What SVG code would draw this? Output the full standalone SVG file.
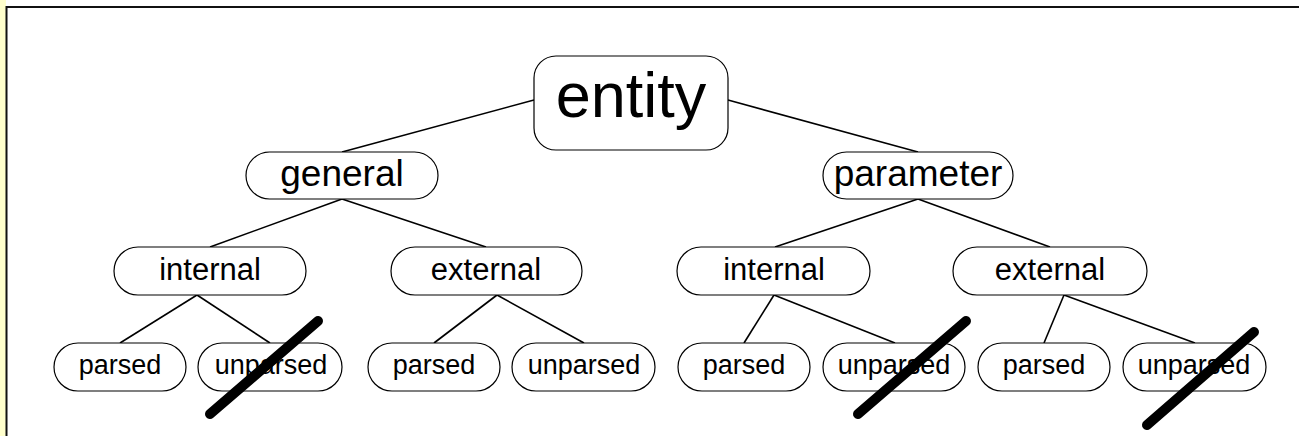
<svg xmlns="http://www.w3.org/2000/svg" width="1299" height="436" viewBox="0 0 1299 436">
  <style>
    .node { fill: #ffffff; stroke: #000000; stroke-width: 1.2; }
    .lbl { font-family: "Liberation Sans", Arial, sans-serif; fill: #000000; text-anchor: middle; }
    .edge { stroke: #000000; stroke-width: 1.6; fill: none; }
    .strike { stroke: #000000; stroke-width: 10; stroke-linecap: round; }
  </style>

  <!-- page background and frame -->
  <rect x="0" y="0" width="1299" height="436" fill="#ffffff"/>
  <rect x="0" y="0" width="6" height="436" fill="#ffffcc"/>
  <path d="M6.5 436 V7 H1299" fill="none" stroke="#111111" stroke-width="2"/>

  <!-- connectors -->
  <g id="connectors">
    <line class="edge" x1="534" y1="100" x2="342" y2="152"/>
    <line class="edge" x1="728" y1="100" x2="918" y2="152"/>
    <line class="edge" x1="342" y1="199" x2="210" y2="247"/>
    <line class="edge" x1="342" y1="199" x2="486" y2="247"/>
    <line class="edge" x1="918" y1="199" x2="775" y2="247"/>
    <line class="edge" x1="918" y1="199" x2="1050" y2="247"/>
    <line class="edge" x1="197" y1="295" x2="120" y2="343"/>
    <line class="edge" x1="197" y1="295" x2="270" y2="343"/>
    <line class="edge" x1="497" y1="295" x2="434" y2="343"/>
    <line class="edge" x1="497" y1="295" x2="584" y2="343"/>
    <line class="edge" x1="774" y1="295" x2="744" y2="343"/>
    <line class="edge" x1="774" y1="295" x2="895" y2="343"/>
    <line class="edge" x1="1064" y1="295" x2="1044" y2="343"/>
    <line class="edge" x1="1064" y1="295" x2="1195" y2="343"/>
  </g>

  <!-- root -->
  <g id="entity">
    <rect class="node" x="534" y="56" width="194" height="94" rx="22"/>
    <text class="lbl" x="631" y="117" font-size="63">entity</text>
  </g>

  <!-- second level -->
  <g id="general">
    <rect class="node" x="246" y="152" width="192" height="47" rx="23.5"/>
    <text class="lbl" x="342" y="186" font-size="37">general</text>
  </g>
  <g id="parameter">
    <rect class="node" x="823" y="152" width="190" height="47" rx="23.5"/>
    <text class="lbl" x="918" y="186" font-size="37">parameter</text>
  </g>

  <!-- third level -->
  <g id="general-internal">
    <rect class="node" x="114" y="247" width="192" height="48" rx="24"/>
    <text class="lbl" x="210" y="280" font-size="31">internal</text>
  </g>
  <g id="general-external">
    <rect class="node" x="391" y="247" width="191" height="48" rx="24"/>
    <text class="lbl" x="486" y="280" font-size="31">external</text>
  </g>
  <g id="parameter-internal">
    <rect class="node" x="677" y="247" width="193" height="48" rx="24"/>
    <text class="lbl" x="774" y="280" font-size="31">internal</text>
  </g>
  <g id="parameter-external">
    <rect class="node" x="953" y="247" width="194" height="48" rx="24"/>
    <text class="lbl" x="1050" y="280" font-size="31">external</text>
  </g>

  <!-- leaves -->
  <g id="gi-parsed">
    <rect class="node" x="54" y="343" width="132" height="48" rx="24"/>
    <text class="lbl" x="120" y="374" font-size="27">parsed</text>
  </g>
  <g id="gi-unparsed">
    <rect class="node" x="198" y="343" width="144" height="48" rx="24"/>
    <text class="lbl" x="271" y="374" font-size="27">unparsed</text>
  </g>
  <g id="ge-parsed">
    <rect class="node" x="368" y="343" width="132" height="48" rx="24"/>
    <text class="lbl" x="434" y="374" font-size="27">parsed</text>
  </g>
  <g id="ge-unparsed">
    <rect class="node" x="512" y="343" width="143" height="48" rx="24"/>
    <text class="lbl" x="584" y="374" font-size="27">unparsed</text>
  </g>
  <g id="pi-parsed">
    <rect class="node" x="678" y="343" width="132" height="48" rx="24"/>
    <text class="lbl" x="744" y="374" font-size="27">parsed</text>
  </g>
  <g id="pi-unparsed">
    <rect class="node" x="823" y="343" width="142" height="48" rx="24"/>
    <text class="lbl" x="894" y="374" font-size="27">unparsed</text>
  </g>
  <g id="pe-parsed">
    <rect class="node" x="978" y="343" width="132" height="48" rx="24"/>
    <text class="lbl" x="1044" y="374" font-size="27">parsed</text>
  </g>
  <g id="pe-unparsed">
    <rect class="node" x="1123" y="343" width="143" height="48" rx="24"/>
    <text class="lbl" x="1194" y="374" font-size="27">unparsed</text>
  </g>

  <!-- crossed-out leaves -->
  <g id="strikes">
    <line class="strike" x1="210" y1="414" x2="318" y2="321"/>
    <line class="strike" x1="858" y1="414" x2="966" y2="321"/>
    <line class="strike" x1="1147" y1="425" x2="1254" y2="332"/>
  </g>
</svg>
